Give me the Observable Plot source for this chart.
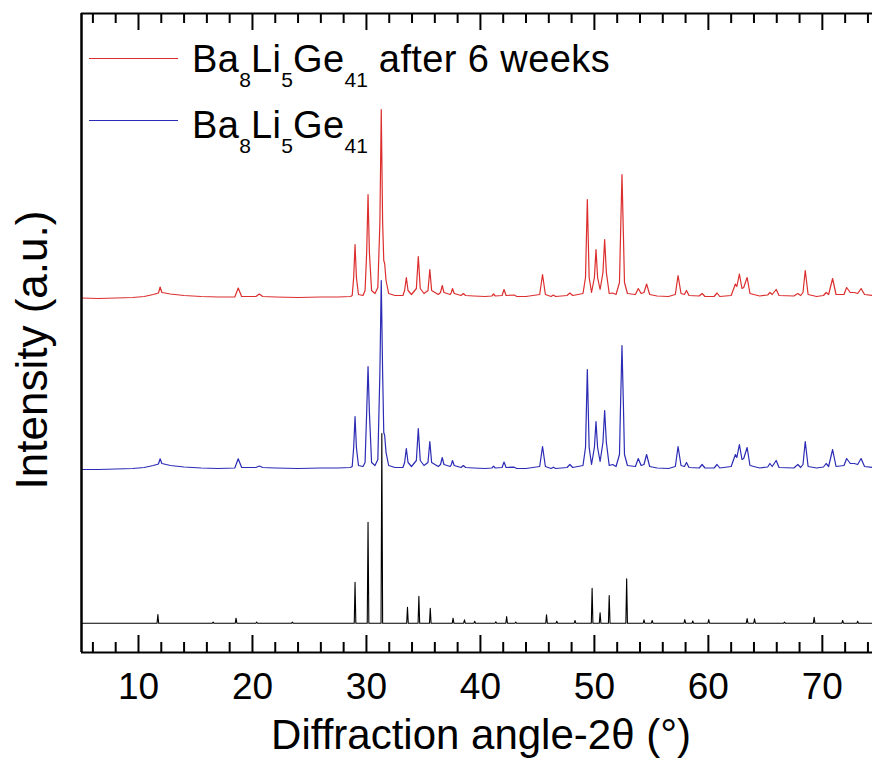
<!DOCTYPE html>
<html><head><meta charset="utf-8">
<script src="https://cdn.jsdelivr.net/npm/d3@7"></script>
<script src="https://cdn.jsdelivr.net/npm/@observablehq/plot@0.6"></script>
<style>
body{margin:0;background:#fff;font-family:"Liberation Sans",Arial,sans-serif;}
#wrap{position:relative;width:872px;height:771px;overflow:hidden;}
.legline{position:absolute;height:0;border-top:1.5px solid;}
.legtxt{position:absolute;font-size:38px;line-height:38px;white-space:nowrap;color:#000;letter-spacing:0.4px;}
.legtxt .s{font-size:21px;position:relative;top:15px;letter-spacing:0;}
</style></head><body><div id="wrap"></div>
<script>
// ---- data (intensity in arbitrary units, patterns offset vertically) ----
const legendLabels = ["after 6 weeks", ""];
const majorTicks = [10, 20, 30, 40, 50, 60, 70];
const minorTicks = [6, 8, 12, 14, 16, 18, 22, 24, 26, 28, 32, 34, 36, 38, 42, 44, 46, 48, 52, 54, 56, 58, 62, 64, 66, 68, 72, 74];

// measured pattern after 6 weeks [2θ, intensity]
const redTrace = [[5,354.5],[6.5,354],[8,354.5],[9.5,355],[10.5,356],[11.3,358],[11.75,359.5],[11.9,365.5],[12.05,360],[12.8,358.5],[14,357],[15.5,356],[17,355.5],[18.45,355.5],[18.75,364.5],[19.05,356],[20.3,356],[20.6,358.5],[20.9,356],[22,355.5],[24,355],[26,355.5],[27.5,355.5],[28.6,356],
[28.75,357],[28.88,375],[29.0,408],[29.12,375],[29.3,358],[29.7,357],
[29.88,362],[30.02,400],[30.14,458],[30.26,400],[30.45,362],[30.75,359],
[31.0,365],[31.18,430],[31.3,543],[31.42,430],[31.52,392],[31.6,389],[31.72,372],[31.95,359],[32.5,357],[33.2,357],
[33.35,362],[33.5,375],[33.65,362],[33.95,358],
[34.38,364],[34.55,396],[34.72,364],[35.05,359],
[35.4,362],[35.56,383],[35.72,362],[36.3,358],
[36.5,360],[36.65,367],[36.8,360],[37.35,358],
[37.45,360],[37.55,364],[37.7,359],[38.3,357],[38.5,359],[38.7,357],[39.4,356.5],[40.4,356],[41.0,356.5],[41.15,358.5],[41.3,356.5],[41.9,357],[42.07,363],[42.25,357],[42.95,357.5],[43.2,356],[44,356],[45.2,358],[45.45,378],[45.7,358],[46.2,356],[46.4,357.5],[46.6,356],[47.6,357],[47.85,359.5],[48.1,357],[49.0,359],
[49.22,375],[49.38,453],[49.54,375],[49.75,360],
[50.0,375],[50.14,403],[50.28,375],[50.5,363],
[50.75,380],[50.9,413],[51.05,380],[51.3,359],[51.6,359.5],[51.9,358],
[52.2,370],[52.3,420],[52.42,478],[52.54,420],[52.64,370],[52.9,359],[53.6,358],[53.85,364],[54.1,359],[54.35,360],[54.58,368.5],[54.85,358],[55.5,356.5],[56.5,356],[57.1,358],[57.34,377],[57.6,359],[57.9,358],[58.08,362],[58.3,357],[59.2,356.5],[59.45,359],[59.7,356],[60.5,356],[60.76,359.5],[61.0,356],[62.0,357],[62.37,368.5],[62.5,366],[62.72,378.5],[62.95,364],[63.1,365],[63.4,375],[63.65,359],[64.5,356.5],[65.2,357.5],[65.4,360],[65.6,358],[65.95,363],[66.2,357],[67.5,356.5],[67.85,359],[68.1,357],[68.3,360],[68.5,382],[68.75,358],[69.5,356],[70.1,357],[70.33,360],[70.55,358],[70.9,374],[71.2,358],[71.9,358],[72.13,365],[72.45,360],[72.8,360],[73.1,359],[73.4,364],[73.7,358],[74.4,357]];

// as-prepared pattern [2θ, intensity]
const blueTrace = [[5,183],[6.5,183],[8,183.5],[9.5,184],[10.5,185],[11.3,187],[11.75,188.5],[11.9,193.7],[12.05,189],[12.8,187],[14,185.5],[15.5,184.5],[17,184],[18.45,184.5],[18.75,193.7],[19.05,185],[20.3,185],[20.6,186.5],[20.9,185],[22,184.5],[24,184],[26,184.5],[27.5,184.5],[28.6,185],
[28.75,186],[28.88,205],[29.0,236],[29.12,205],[29.3,187],[29.7,186],
[29.88,190],[30.02,240],[30.14,286],[30.26,240],[30.45,190],[30.75,187],
[31.0,193],[31.18,280],[31.3,372],[31.42,280],[31.52,220],[31.6,217],[31.72,200],[31.95,187],[32.5,185],[33.2,185],
[33.35,190],[33.5,204],[33.65,190],[33.95,186],
[34.38,192],[34.55,224],[34.72,192],[35.05,187],
[35.4,190],[35.56,211],[35.72,190],[36.3,186],
[36.5,188],[36.65,195],[36.8,188],[37.35,186],
[37.45,188],[37.55,192],[37.7,187],[38.3,185],[38.5,187],[38.7,185],[39.4,184.5],[40.4,184],[41.0,184.5],[41.15,186.3],[41.3,184.5],[41.9,185],[42.07,190.5],[42.25,185],[42.95,185.3],[43.2,184],[44,184],[45.2,186],[45.45,206],[45.7,186],[46.2,184],[46.4,185.3],[46.6,184],[47.6,185],[47.85,188],[48.1,185],[49.0,187],
[49.22,205],[49.38,283],[49.54,205],[49.75,188],
[50.0,205],[50.14,231],[50.28,205],[50.5,191],
[50.75,210],[50.9,242],[51.05,210],[51.3,187],[51.6,188],[51.9,186],
[52.2,198],[52.3,250],[52.42,307],[52.54,250],[52.64,198],[52.9,187],[53.6,186],[53.85,194],[54.1,187],[54.35,188],[54.58,198],[54.85,186],[55.5,184.5],[56.5,184],[57.1,186],[57.34,206],[57.6,187],[57.9,186],[58.08,190],[58.3,185],[59.2,184.5],[59.45,188],[59.7,184.5],[60.5,184.5],[60.76,188],[61.0,184.5],[62.0,186],[62.37,198],[62.5,195],[62.72,208],[62.95,193],[63.1,194],[63.4,205],[63.65,187],[64.5,184.5],[65.2,185.5],[65.4,189],[65.6,186],[65.95,192],[66.2,185],[67.5,184.5],[67.85,188],[68.1,185],[68.3,188],[68.5,211],[68.75,186],[69.5,184.5],[70.1,185.5],[70.33,189],[70.55,186],[70.9,203],[71.2,186],[71.9,187],[72.13,194],[72.45,189],[72.8,189],[73.1,188],[73.4,194],[73.7,186],[74.4,185]];

// calculated reflections [2θ, peak top]; baseline level
const calcBase = 29.3;
const calcPeaks = [[11.7,38],[16.55,30.3],[18.56,34.3],[20.37,30.5],[23.5,30.3],[29.0,70.3],[30.14,130.3],[31.35,219],[33.6,45.3],[34.6,56.3],[35.6,44.3],[37.6,34.3],[38.6,32.7],[39.5,31.3],[41.35,30.7],[42.3,36],[43.1,30.5],[45.8,37.7],[46.7,31.3],[48.3,32],[49.8,64.3],[50.5,39.7],[51.3,57],[52.83,73.7],[54.35,32.7],[55.07,32],[57.93,33],[58.63,31.5],[60.03,33],[63.4,34],[64.05,33.7],[66.68,30.3],[69.28,35.3],[71.78,32],[73.1,31.3]];

const xDomain = [5, 74.4];
const yDomain = [0, 639];

// ---- build ----
const halfW = 0.07;
const calcLine = [[xDomain[0], calcBase]];
for (const [t, h] of calcPeaks) {
  calcLine.push([t - halfW, calcBase], [t, h], [t + halfW, calcBase]);
}
calcLine.push([xDomain[1], calcBase]);

const redColor = "#dc2e2e", blueColor = "#2b2bb5";
const plotH = 771 - 13 - 119;

const plot = Plot.plot({
  width: 872, height: 771,
  marginLeft: 81, marginRight: 0, marginTop: 13, marginBottom: 119,
  x: {domain: xDomain},
  y: {domain: yDomain, axis: null},
  style: {fontFamily: "'Liberation Sans', Arial, sans-serif", color: "#000", background: "#fff", overflow: "visible"},
  marks: [
    Plot.line(calcLine, {x: d => d[0], y: d => d[1], stroke: "#000", strokeWidth: 1.1}),
    Plot.line(blueTrace, {x: d => d[0], y: d => d[1], stroke: blueColor, strokeWidth: 1.2}),
    Plot.line(redTrace, {x: d => d[0], y: d => d[1], stroke: redColor, strokeWidth: 1.2}),
    // inward ticks bottom and top
    Plot.ruleX(majorTicks, {x: d => d, insetTop: plotH - 17, stroke: "#000", strokeWidth: 2}),
    Plot.ruleX(minorTicks, {x: d => d, insetTop: plotH - 10, stroke: "#000", strokeWidth: 2}),
    Plot.ruleX(majorTicks, {x: d => d, insetBottom: plotH - 17, stroke: "#000", strokeWidth: 2}),
    Plot.ruleX(minorTicks, {x: d => d, insetBottom: plotH - 10, stroke: "#000", strokeWidth: 2}),
    // frame (left, top, bottom)
    Plot.ruleX([xDomain[0]], {stroke: "#000", strokeWidth: 2.5}),
    Plot.ruleY([yDomain[0], yDomain[1]], {stroke: "#000", strokeWidth: 2.2}),
    Plot.axisX(majorTicks, {tickSize: 0, tickPadding: 20, fontSize: 37, label: null}),
    Plot.text(["Diffraction angle-2θ (°)"], {frameAnchor: "bottom", dx: 4, dy: 96, fontSize: 42, fill: "#000"}),
    Plot.text(["Intensity (a.u.)"], {frameAnchor: "left", textAnchor: "middle", rotate: -90, dx: -49, dy: 17, fontSize: 44, fill: "#000"})
  ]
});

const wrap = document.getElementById("wrap");
wrap.appendChild(plot);

// legend (inside the frame, with subscripts)
const formula = 'Ba<span class="s">8</span>Li<span class="s">5</span>Ge<span class="s">41</span>';
const rows = [
  {color: redColor, lineY: 58, textTop: 39.8, label: legendLabels[0]},
  {color: blueColor, lineY: 120, textTop: 105.8, label: legendLabels[1]}
];
for (const r of rows) {
  const l = document.createElement("div");
  l.className = "legline";
  l.style.left = "89px"; l.style.width = "89px"; l.style.top = r.lineY + "px";
  l.style.borderTopColor = r.color;
  wrap.appendChild(l);
  const t = document.createElement("div");
  t.className = "legtxt";
  t.style.left = "192px"; t.style.top = r.textTop + "px";
  t.innerHTML = formula + (r.label ? " " + r.label : "");
  wrap.appendChild(t);
}
</script></body></html>
